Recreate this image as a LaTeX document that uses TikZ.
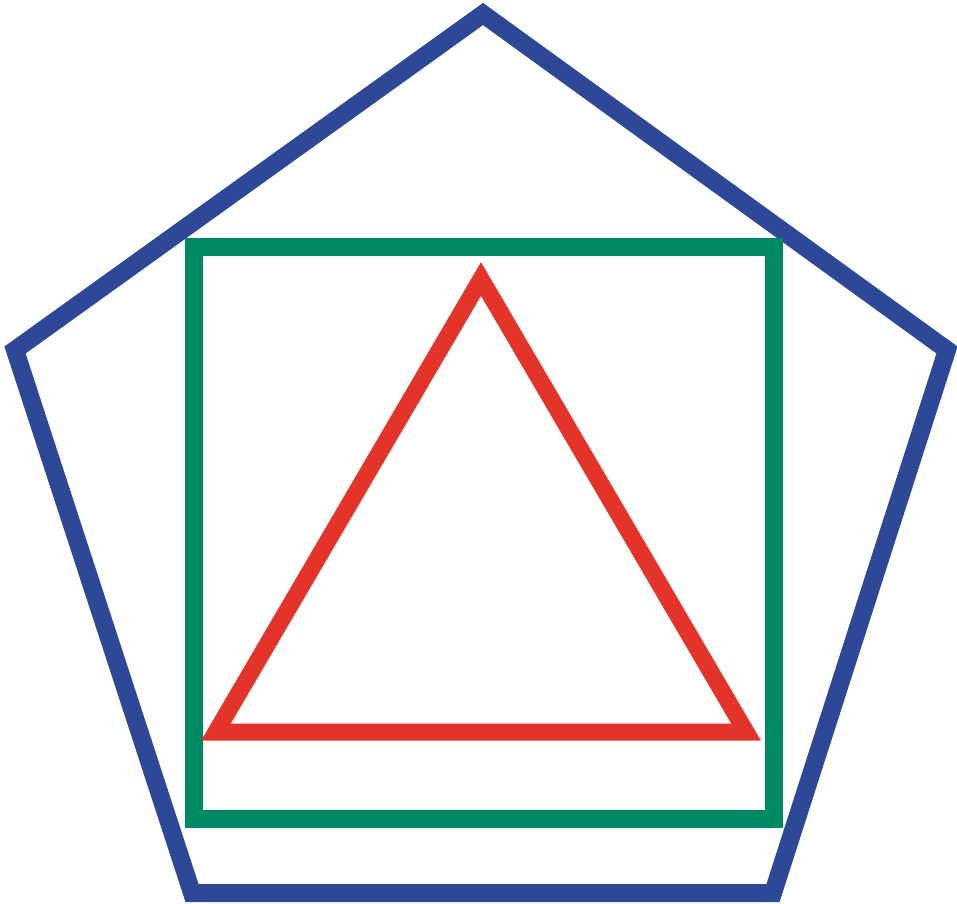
\documentclass[tikz,border=0pt]{standalone}
\definecolor{pblue}{RGB}{46,72,152}
\definecolor{sgreen}{RGB}{0,138,100}
\definecolor{tred}{RGB}{228,52,42}
\begin{document}
\begin{tikzpicture}[x=1pt,y=-1pt,
  outline/.style={line join=miter, miter limit=10}]
\useasboundingbox (0,0) rectangle (957,903);
\coordinate (p1) at (483,14);
\coordinate (p2) at (947,350);
\coordinate (p3) at (773,893);
\coordinate (p4) at (192,893);
\coordinate (p5) at (15,350);
\draw[outline, pblue, line width=18pt] (p1) -- (p2) -- (p3) -- (p4) -- (p5) -- cycle;
\coordinate (s1) at (194,247);
\coordinate (s2) at (774,819);
\draw[outline, sgreen, line width=17.5pt] (s1) rectangle (s2);
\coordinate (t1) at (481,279);
\coordinate (t2) at (746,732);
\coordinate (t3) at (216,732);
\draw[outline, tred, line width=17pt] (t1) -- (t2) -- (t3) -- cycle;
\end{tikzpicture}
\end{document}
